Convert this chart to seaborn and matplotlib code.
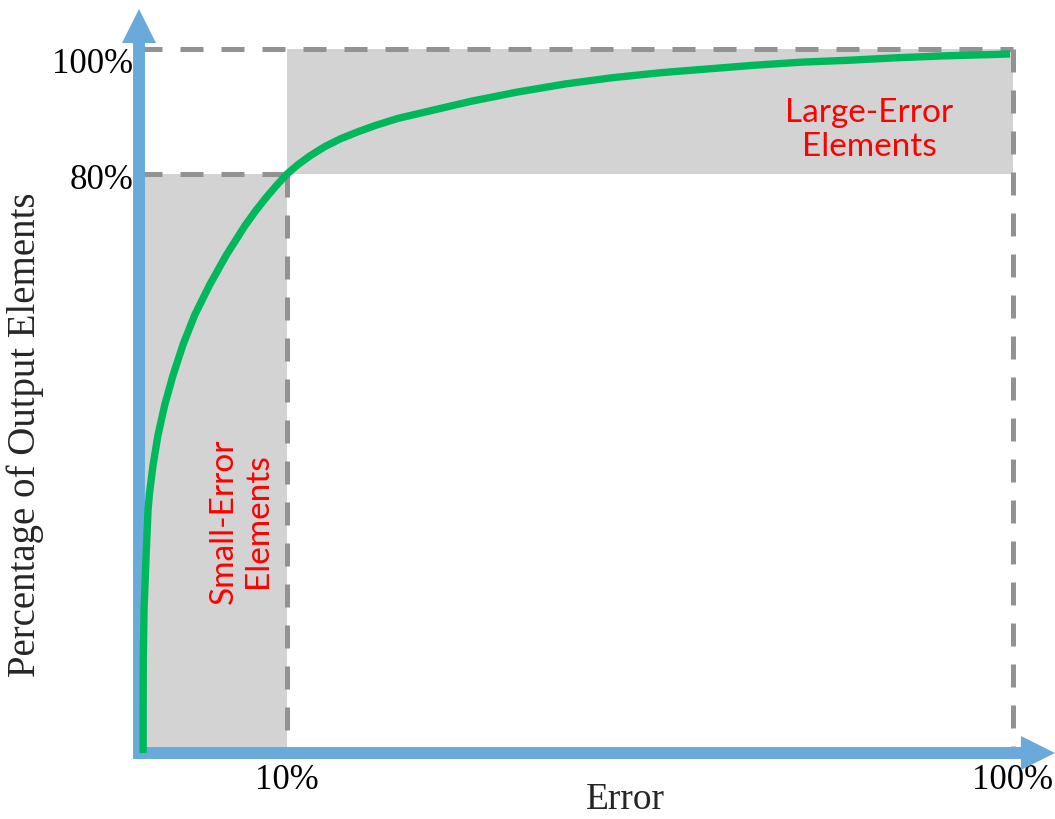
import numpy as np
import pandas as pd
import matplotlib
matplotlib.use("Agg")
import matplotlib.pyplot as plt
import matplotlib.transforms as mtransforms
from matplotlib.patches import FancyArrowPatch, ArrowStyle
import seaborn as sns

# Cumulative share of output elements against error
error = [0.28, 0.28, 0.29, 0.34, 0.47, 0.61, 0.72, 0.95, 1.28, 1.74, 2.30, 2.97,
         3.76, 4.78, 5.90, 7.14, 7.84, 8.51, 9.26, 10.0,
         11.36, 12.85, 14.71, 16.57, 18.68, 20.91, 23.76, 26.74, 32.69, 38.51,
         44.46, 50.29, 56.24, 62.07, 67.89, 73.84, 79.67, 85.62, 91.45, 99.63]
percent = [0.0, 5.9, 12.85, 19.8, 26.7, 33.6, 36.1, 39.8, 43.9, 48.1, 52.2, 56.4,
           60.5, 64.7, 68.8, 72.8, 74.8, 76.55, 78.35, 80.0,
           81.5, 82.9, 84.4, 85.6, 86.7, 87.75, 88.9, 89.8, 91.6, 93.1,
           94.4, 95.4, 96.2, 96.8, 97.4, 97.9, 98.2, 98.6, 98.9, 99.2]

# Thresholds separating small-error from large-error elements
error_cut = 10
percent_cut = 80
x_ticks = [10, 100]
x_tick_labels = ["10%", "100%"]
y_ticks = [80, 100]
y_tick_labels = ["80%", "100%"]

df = pd.DataFrame({"error": error, "percent": percent})

sns.set_theme(style="white")
plt.rcParams["font.family"] = ["Liberation Serif", "DejaVu Serif"]

W, H = 1055, 819
fig = plt.figure(figsize=(W / 100, H / 100), dpi=100)
ax = fig.add_axes([139 / W, (H - 753) / H, (1013 - 139) / W, (753 - 49) / H])


# Schematic scales: the first 10% of error and the top 20% of elements get stretched
def x_fwd(x):
    x = np.asarray(x, float)
    return np.where(x < 10, x * 14.8, 148 + (x - 10) * (726 / 90))


def x_inv(u):
    u = np.asarray(u, float)
    return np.where(u < 148, u / 14.8, 10 + (u - 148) * (90 / 726))


def y_fwd(y):
    y = np.asarray(y, float)
    return np.where(y < 80, y * (579 / 80), 579 + (y - 80) * (125 / 20))


def y_inv(v):
    v = np.asarray(v, float)
    return np.where(v < 579, v * (80 / 579), 80 + (v - 579) * (20 / 125))


ax.set_xscale("function", functions=(x_fwd, x_inv))
ax.set_yscale("function", functions=(y_fwd, y_inv))
ax.set_xlim(0, 100)
ax.set_ylim(0, 100)

shade = "#d3d3d3"
dash_col = "#929292"
dash_style = (0, (4.6, 3.6))
dash_lw = 3.6

# Shaded regions
ax.fill_between([0, error_cut], 0, percent_cut, color=shade, lw=0, zorder=1)
ax.fill_between([error_cut, 100], percent_cut, 100, color=shade, lw=0, zorder=1)

# Dashed guides
ax.plot([0, 100], [100, 100], color=dash_col, lw=dash_lw, ls=dash_style, zorder=2, clip_on=False)
ax.plot([100, 100], [100, 0], color=dash_col, lw=dash_lw, ls=dash_style, zorder=2, clip_on=False)
ax.plot([0, error_cut], [percent_cut, percent_cut], color=dash_col, lw=dash_lw, ls=dash_style, zorder=2, clip_on=False)
ax.plot([error_cut, error_cut], [percent_cut, 0], color=dash_col, lw=dash_lw, ls=dash_style, zorder=2, clip_on=False)

# Axis arrows
blue = "#6aaadb"
arrow_style = ArrowStyle.Simple(head_length=24.5, head_width=24.5, tail_width=8.6)
y_arrow = FancyArrowPatch((0.0, -0.0085), (0.0, 1.0568), transform=ax.transAxes,
                          arrowstyle=arrow_style, mutation_scale=1, color=blue,
                          shrinkA=0, shrinkB=0, clip_on=False, zorder=4, lw=0)
x_arrow = FancyArrowPatch((-0.0034, 0.0), (1.048, 0.0), transform=ax.transAxes,
                          arrowstyle=arrow_style, mutation_scale=1, color=blue,
                          shrinkA=0, shrinkB=0, clip_on=False, zorder=4, lw=0)
ax.add_patch(y_arrow)
ax.add_patch(x_arrow)

# The distribution curve
sns.lineplot(data=df, x="error", y="percent", ax=ax, color="#00b85c", lw=5.3,
             estimator=None, sort=False, zorder=5)
for ln in ax.get_lines()[-1:]:
    ln.set_solid_capstyle("butt")
    ln.set_solid_joinstyle("round")
    ln.set_clip_on(False)

# Region labels
red_font = ["Lato", "DejaVu Sans"]
ax.text(0.8352, 0.885, "Large-Error\nElements", transform=ax.transAxes, color="#ff0000",
        fontsize=24, family=red_font, ha="center", va="center", linespacing=1.15, zorder=6)
ax.text(0.1167, 0.3295, "Small-Error\nElements", transform=ax.transAxes, color="#ff0000",
        fontsize=24, family=red_font, ha="center", va="center", rotation=90,
        linespacing=1.15, zorder=6)

# Ticks and labels
for s in ax.spines.values():
    s.set_visible(False)
ax.set_xticks(x_ticks)
ax.set_xticklabels(x_tick_labels, fontsize=25)
ax.set_yticks(y_ticks)
ax.set_yticklabels(y_tick_labels, fontsize=25)
ax.tick_params(axis="x", length=0, pad=8, colors="black")
ax.tick_params(axis="y", length=0, pad=4, colors="black")
ax.minorticks_off()
for lab, dy in zip(ax.get_yticklabels(), [-2, -8]):
    lab.set_transform(lab.get_transform() + mtransforms.ScaledTranslation(0, dy / 72, fig.dpi_scale_trans))

ax.set_xlabel("Error", fontsize=27, va="center")
ax.xaxis.set_label_coords(0.556, -0.0668)
ax.set_ylabel("Percentage of Output Elements", fontsize=28, va="center", ha="center")
ax.yaxis.set_label_coords(-0.1304, 0.4517)

ax.set_facecolor("white")
ax.grid(False)
fig.savefig("out.png", dpi=100, facecolor="white")
